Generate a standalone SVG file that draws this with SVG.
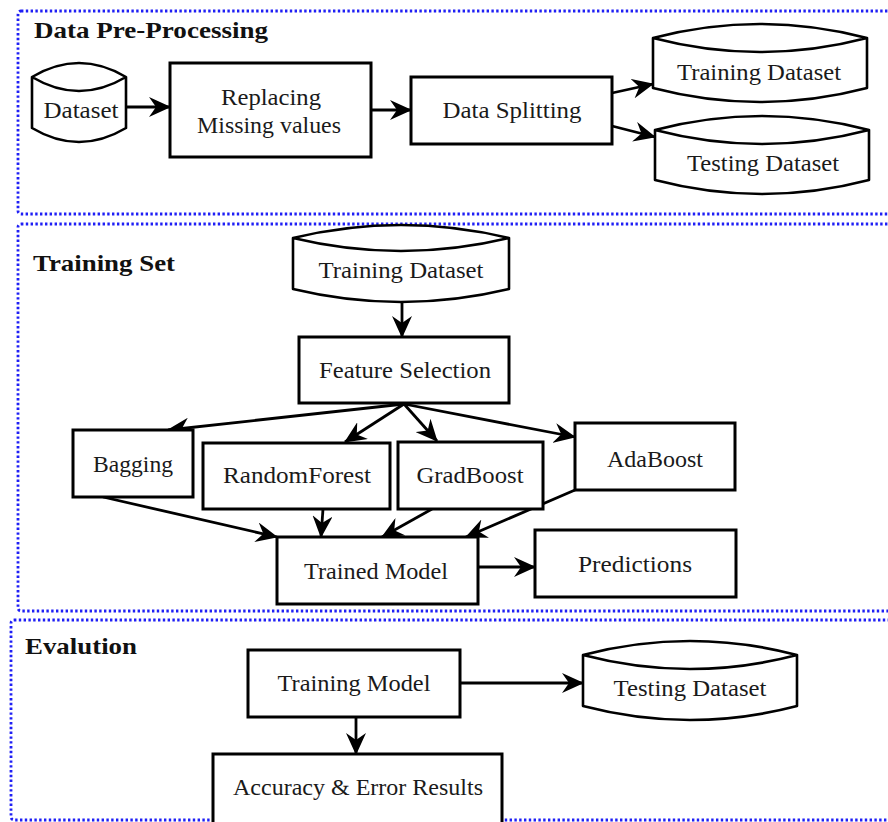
<svg xmlns="http://www.w3.org/2000/svg" width="888" height="822" viewBox="0 0 888 822">
<style>
.panel{fill:none;stroke:#1f1ff5;stroke-width:2.8;stroke-dasharray:2.4 2.4}
.box{fill:#fff;stroke:#000;stroke-width:3}
.cyl{fill:#fff;stroke:#000;stroke-width:2.6;stroke-linejoin:round}
.t{font-family:"Liberation Serif","Times New Roman",serif;font-size:23px;fill:#1a1a1a;text-anchor:middle}
.h{font-family:"Liberation Serif","Times New Roman",serif;font-size:23px;font-weight:bold;fill:#111}
.c{fill:none;stroke:#000;stroke-width:2.8}
</style>
<defs>
<marker id="ah" markerUnits="userSpaceOnUse" viewBox="0 0 22 20" refX="21" refY="10" markerWidth="22" markerHeight="20" orient="auto">
<path d="M0,0 L22,10 L0,20 L7,10 z" fill="#000"/>
</marker>
</defs>
<rect width="888" height="822" fill="#fff"/>

<g id="panels">
<rect class="panel" x="18" y="11" width="900" height="203" rx="3"/>
<rect class="panel" x="18" y="224" width="900" height="387" rx="3"/>
<rect class="panel" x="11" y="620" width="907" height="200" rx="3"/>
<text class="h" x="34" y="38" textLength="234" lengthAdjust="spacingAndGlyphs">Data Pre-Processing</text>
<text class="h" x="33" y="271" textLength="142" lengthAdjust="spacingAndGlyphs">Training Set</text>
<text class="h" x="25" y="654" textLength="112" lengthAdjust="spacingAndGlyphs">Evalution</text>
</g>

<g id="connectors" class="c" marker-end="url(#ah)">
<line x1="126" y1="107" x2="170" y2="107"/>
<line x1="371" y1="110" x2="411" y2="110"/>
<line x1="612" y1="93" x2="653" y2="84"/>
<line x1="612" y1="126" x2="655" y2="137"/>
<line x1="402" y1="301" x2="402" y2="337"/>
<line x1="404" y1="404" x2="168" y2="430"/>
<line x1="404" y1="404" x2="345" y2="442"/>
<line x1="404" y1="404" x2="437" y2="441"/>
<line x1="404" y1="404" x2="575" y2="437"/>
<line x1="103" y1="497" x2="277" y2="537"/>
<line x1="323" y1="509" x2="321" y2="537"/>
<line x1="432" y1="509" x2="382" y2="537"/>
<line x1="575" y1="490" x2="466" y2="537"/>
<line x1="478" y1="567" x2="535" y2="567"/>
<line x1="460" y1="683" x2="583" y2="683"/>
<line x1="356" y1="717" x2="356" y2="754"/>
</g>

<g id="dataset">
<path class="cyl" d="M32,77 Q79,49 126,77 Q79,105 32,77 Z M32,77 L32,128 Q79,156 126,128 L126,77"/>
<text class="t" x="81" y="118" textLength="75" lengthAdjust="spacingAndGlyphs">Dataset</text>
</g>
<g id="replacing">
<rect class="box" x="170" y="63" width="201" height="94"/>
<text class="t" x="271" y="105" textLength="100" lengthAdjust="spacingAndGlyphs">Replacing</text>
<text class="t" x="269" y="133" textLength="144" lengthAdjust="spacingAndGlyphs">Missing values</text>
</g>
<g id="splitting">
<rect class="box" x="411" y="77" width="201" height="67"/>
<text class="t" x="512" y="118" textLength="139" lengthAdjust="spacingAndGlyphs">Data Splitting</text>
</g>
<g id="training-dataset-1">
<path class="cyl" d="M653,38 Q760,10 867,38 Q760,66 653,38 Z M653,38 L653,88 Q760,116 867,88 L867,38"/>
<text class="t" x="759" y="80" textLength="164" lengthAdjust="spacingAndGlyphs">Training Dataset</text>
</g>
<g id="testing-dataset-1">
<path class="cyl" d="M655,130 Q762,102 869,130 Q762,158 655,130 Z M655,130 L655,180 Q762,208 869,180 L869,130"/>
<text class="t" x="763" y="171" textLength="152" lengthAdjust="spacingAndGlyphs">Testing Dataset</text>
</g>

<g id="training-dataset-2">
<path class="cyl" d="M293,238 Q401,212 509,238 Q401,264 293,238 Z M293,238 L293,289 Q401,315 509,289 L509,238"/>
<text class="t" x="401" y="278" textLength="165" lengthAdjust="spacingAndGlyphs">Training Dataset</text>
</g>
<g id="feature-selection">
<rect class="box" x="299" y="337" width="210" height="66"/>
<text class="t" x="405" y="378" textLength="172" lengthAdjust="spacingAndGlyphs">Feature Selection</text>
</g>
<g id="bagging">
<rect class="box" x="73" y="430" width="120" height="67"/>
<text class="t" x="133" y="472" textLength="80" lengthAdjust="spacingAndGlyphs">Bagging</text>
</g>
<g id="randomforest">
<rect class="box" x="203" y="443" width="187" height="66"/>
<text class="t" x="297" y="483" textLength="148" lengthAdjust="spacingAndGlyphs">RandomForest</text>
</g>
<g id="gradboost">
<rect class="box" x="398" y="442" width="145" height="67"/>
<text class="t" x="470" y="483" textLength="107" lengthAdjust="spacingAndGlyphs">GradBoost</text>
</g>
<g id="adaboost">
<rect class="box" x="575" y="423" width="160" height="67"/>
<text class="t" x="655" y="467" textLength="96" lengthAdjust="spacingAndGlyphs">AdaBoost</text>
</g>
<g id="trained-model">
<rect class="box" x="277" y="537" width="201" height="67"/>
<text class="t" x="376" y="579" textLength="144" lengthAdjust="spacingAndGlyphs">Trained Model</text>
</g>
<g id="predictions">
<rect class="box" x="535" y="530" width="201" height="67"/>
<text class="t" x="635" y="572" textLength="114" lengthAdjust="spacingAndGlyphs">Predictions</text>
</g>

<g id="training-model">
<rect class="box" x="248" y="650" width="212" height="67"/>
<text class="t" x="354" y="691" textLength="153" lengthAdjust="spacingAndGlyphs">Training Model</text>
</g>
<g id="testing-dataset-2">
<path class="cyl" d="M583,655 Q690,627 797,655 Q690,683 583,655 Z M583,655 L583,706 Q690,734 797,706 L797,655"/>
<text class="t" x="690" y="696" textLength="153" lengthAdjust="spacingAndGlyphs">Testing Dataset</text>
</g>
<g id="accuracy">
<rect class="box" x="213" y="754" width="289" height="70"/>
<text class="t" x="358" y="795" textLength="250" lengthAdjust="spacingAndGlyphs">Accuracy &amp; Error Results</text>
</g>
</svg>
